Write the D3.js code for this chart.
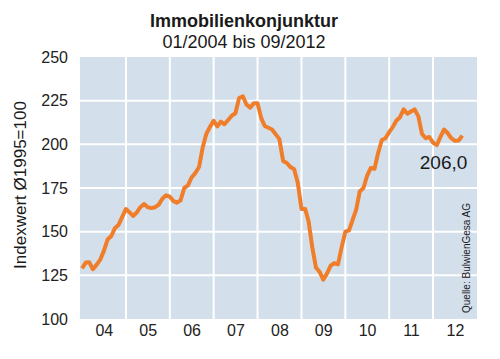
<!DOCTYPE html>
<html>
<head>
<meta charset="utf-8">
<script src="https://cdn.jsdelivr.net/npm/d3@7"></script>
<style>
  html, body { margin: 0; padding: 0; background: #ffffff; }
  svg { display: block; font-family: "Liberation Sans", Arial, Helvetica, sans-serif; }
</style>
</head>
<body>
<svg id="chart" width="500" height="359"></svg>
<script>
// ---- data (monthly, 01/2004 .. 09/2012) ----
const startYear = 2004;
const startMonth = 0; // January
const indexValues = [
  129, 132.3, 132.5, 128.5, 131, 134, 139, 145.5, 147.5, 152, 154, 158.5,          // 2004
  163, 161, 159, 161, 164, 165.8, 164, 163.5, 164, 165.5, 169, 170.8,              // 2005
  170, 167.5, 166.6, 168, 175, 176.5, 181, 183.5, 187, 198, 206, 210,              // 2006
  213.5, 210.3, 213, 211.5, 213.9, 216.4, 217.8, 226.5, 227.5, 222.8, 221, 223.5,  // 2007
  223.5, 215, 210.5, 209.5, 208.5, 205.7, 203, 190.5, 189.3, 187, 185.7, 178,      // 2008
  163, 163, 156, 141, 129.5, 127, 122.5, 126, 130.5, 132, 131.3, 141,              // 2009
  150, 150.8, 156.5, 162.5, 173, 175, 182, 186.5, 186, 195, 202.5, 203.5,          // 2010
  207, 210, 213.5, 215.5, 220, 217.5, 218.8, 220, 216, 206, 203.5, 204.2,          // 2011
  201, 199.5, 204, 208.5, 206.5, 203.5, 202, 202.2, 205                            // 2012
];
const yearLabels = ["04", "05", "06", "07", "08", "09", "10", "11", "12"];
const yTicks = [100, 125, 150, 175, 200, 225, 250];
const titleText = "Immobilienkonjunktur";
const subtitleText = "01/2004 bis 09/2012";
const yAxisTitle = "Indexwert \u00D81995=100";
const lastValueLabel = "206,0";
const sourceText = "Quelle: BulwienGesa AG";

// ---- layout ----
const plotLeft = 80, plotRight = 477, plotTop = 57, plotBottom = 319;
const svg = d3.select("#chart");

const x = d3.scaleTime()
  .domain([new Date(2004, 0, 1), new Date(2013, 0, 1)])
  .range([82, 477]);
const y = d3.scaleLinear().domain([100, 250]).range([plotBottom, plotTop]);

const points = indexValues.map((v, i) => ({
  date: new Date(startYear, startMonth + i, 1),
  value: v
}));

// plot background
svg.append("rect")
  .attr("x", plotLeft).attr("y", plotTop)
  .attr("width", plotRight - plotLeft).attr("height", plotBottom - plotTop)
  .attr("fill", "#d3dfea");

// horizontal grid
svg.append("g").selectAll("line")
  .data(yTicks.filter(t => t > 100 && t < 250))
  .join("line")
  .attr("x1", plotLeft).attr("x2", plotRight + 1)
  .attr("y1", d => y(d)).attr("y2", d => y(d))
  .attr("stroke", "#ffffff").attr("stroke-width", 2);

// vertical grid at year boundaries
const yearBounds = d3.range(startYear + 1, startYear + yearLabels.length).map(yy => new Date(yy, 0, 1));
svg.append("g").selectAll("line")
  .data(yearBounds)
  .join("line")
  .attr("x1", d => x(d)).attr("x2", d => x(d))
  .attr("y1", plotTop).attr("y2", plotBottom)
  .attr("stroke", "#ffffff").attr("stroke-width", 2);

// y axis labels
const yAxis = d3.axisLeft(y).tickValues(yTicks).tickSize(0).tickPadding(0).tickFormat(d3.format("d"));
const yg = svg.append("g").attr("transform", `translate(68,0)`).call(yAxis);
yg.select(".domain").remove();
yg.selectAll("text")
  .attr("font-size", 16).attr("fill", "#222").attr("font-family", "Liberation Sans, Arial, sans-serif");

// x axis labels at mid-year
const midYears = yearLabels.map((lab, i) => new Date(startYear + i, 6, 1));
const xAxis = d3.axisBottom(x).tickValues(midYears).tickSize(0).tickPadding(0)
  .tickFormat((d, i) => yearLabels[i]);
const xg = svg.append("g").attr("transform", `translate(0,${plotBottom + 6})`).call(xAxis);
xg.select(".domain").remove();
xg.selectAll("text")
  .attr("font-size", 16).attr("fill", "#222").attr("font-family", "Liberation Sans, Arial, sans-serif");

// line
const line = d3.line().x(d => x(d.date)).y(d => y(d.value));
svg.append("path")
  .datum(points)
  .attr("d", line)
  .attr("fill", "none")
  .attr("stroke", "#f07d2a")
  .attr("stroke-width", 4)
  .attr("stroke-linejoin", "round");

// titles
svg.append("text")
  .attr("x", 244).attr("y", 27)
  .attr("text-anchor", "middle")
  .attr("font-size", 18).attr("font-weight", "bold").attr("fill", "#1a1a1a")
  .text(titleText);
svg.append("text")
  .attr("x", 244).attr("y", 48)
  .attr("text-anchor", "middle")
  .attr("font-size", 18).attr("fill", "#1a1a1a")
  .text(subtitleText);

// y axis title
svg.append("text")
  .attr("transform", "translate(26,185) rotate(-90)")
  .attr("text-anchor", "middle")
  .attr("font-size", 17).attr("fill", "#1a1a1a")
  .text(yAxisTitle);

// last value label
const lastPt = points[points.length - 1];
svg.append("text")
  .attr("x", x(lastPt.date) + 5).attr("y", 169)
  .attr("text-anchor", "end")
  .attr("font-size", 19).attr("fill", "#1a1a1a")
  .text(lastValueLabel);

// source
svg.append("text")
  .attr("transform", "translate(470,313) rotate(-90)")
  .attr("text-anchor", "start")
  .attr("font-size", 10).attr("fill", "#1a1a1a")
  .text(sourceText);
</script>
</body>
</html>
